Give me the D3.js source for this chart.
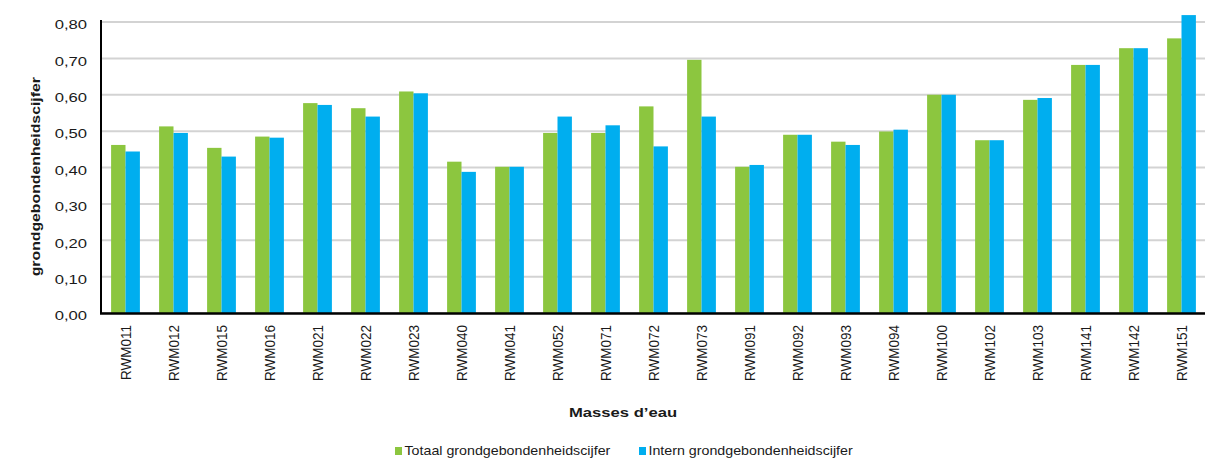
<!DOCTYPE html>
<html>
<head>
<meta charset="utf-8">
<script src="https://cdn.jsdelivr.net/npm/d3@7"></script>
<style>
  html, body { margin: 0; padding: 0; background: #fff; }
  svg { display: block; }
  text { font-family: "Liberation Sans", Arial, Helvetica, sans-serif; fill: #1a1a1a; }
</style>
</head>
<body>
<svg id="chart" width="1205" height="459"></svg>
<script>
// Water bodies (masses d'eau)
const categories = ["RWM011","RWM012","RWM015","RWM016","RWM021","RWM022","RWM023","RWM040","RWM041","RWM052","RWM071","RWM072","RWM073","RWM091","RWM092","RWM093","RWM094","RWM100","RWM102","RWM103","RWM141","RWM142","RWM151"];

// Totaal grondgebondenheidscijfer
const totaal = [0.462,0.513,0.454,0.485,0.577,0.563,0.609,0.416,0.402,0.495,0.495,0.568,0.696,0.402,0.490,0.471,0.499,0.600,0.475,0.586,0.682,0.728,0.755];

// Intern grondgebondenheidscijfer
const intern = [0.444,0.495,0.430,0.482,0.572,0.540,0.604,0.388,0.402,0.540,0.516,0.458,0.540,0.407,0.490,0.462,0.504,0.600,0.475,0.591,0.682,0.728,0.819];

const seriesNames = ["Totaal grondgebondenheidscijfer", "Intern grondgebondenheidscijfer"];
const yTicks = [0, 0.1, 0.2, 0.3, 0.4, 0.5, 0.6, 0.7, 0.8];

const colors = ["#8cc63f", "#00aeef"];
const fmt = v => v.toFixed(2).replace(".", ",");

const svg = d3.select("#chart");
const plotLeft = 101, plotRight = 1205, plotTop = 22, plotBottom = 313;

const x = d3.scaleBand().domain(categories).range([plotLeft + 0.5, plotRight + 0.5])
  .paddingInner(0.4).paddingOuter(0.2);
const xs = d3.scaleBand().domain([0, 1]).range([0, x.bandwidth()]);
const y = d3.scaleLinear().domain([0, 0.8]).range([plotBottom, plotTop]);

// Horizontal gridlines
svg.append("g").selectAll("line").data(yTicks).join("line")
  .attr("x1", plotLeft).attr("x2", plotRight)
  .attr("y1", d => y(d)).attr("y2", d => y(d))
  .attr("stroke", "#d3d3d3").attr("stroke-width", 2);

// Bars
const groups = svg.append("g").selectAll("g").data(categories).join("g")
  .attr("transform", d => `translate(${x(d)},0)`);
groups.selectAll("rect")
  .data((d, i) => [totaal[i], intern[i]])
  .join("rect")
  .attr("x", (d, j) => xs(j))
  .attr("width", xs.bandwidth())
  .attr("y", d => y(d))
  .attr("height", d => y(0) - y(d))
  .attr("fill", (d, j) => colors[j]);

// Axis lines
svg.append("line").attr("x1", plotLeft).attr("x2", plotLeft).attr("y1", plotTop - 2).attr("y2", plotBottom + 1)
  .attr("stroke", "#000").attr("stroke-width", 2);
svg.append("line").attr("x1", plotLeft - 1).attr("x2", plotRight).attr("y1", plotBottom + 0.5).attr("y2", plotBottom + 0.5)
  .attr("stroke", "#000").attr("stroke-width", 2.5);

// Y tick labels
svg.append("g").selectAll("text").data(yTicks).join("text")
  .attr("transform", d => `translate(87,${y(d) + 7.3}) scale(1.28,1)`)
  .attr("text-anchor", "end")
  .style("font-size", "13px")
  .text(fmt);

// X tick labels (rotated)
svg.append("g").selectAll("text").data(categories).join("text")
  .attr("transform", d => `translate(${x(d) + x.bandwidth() / 2 + 5.5},325) rotate(-90) scale(1,1.1)`)
  .attr("text-anchor", "end")
  .style("font-size", "13.5px")
  .text(d => d);

// Axis titles
svg.append("text")
  .attr("transform", "translate(40,176.7) rotate(-90) scale(1,0.85)")
  .attr("text-anchor", "middle")
  .style("font-size", "15.8px").style("font-weight", "bold")
  .text("grondgebondenheidscijfer");

svg.append("text")
  .attr("transform", "translate(623,417) scale(1.28,1)")
  .attr("text-anchor", "middle")
  .style("font-size", "13px").style("font-weight", "bold")
  .text("Masses d\u2019eau");

// Legend
const legendX = [395, 639];
const legend = svg.append("g").selectAll("g").data(seriesNames).join("g")
  .attr("transform", (d, i) => `translate(${legendX[i]},0)`);
legend.append("rect").attr("x", 0).attr("y", 447).attr("width", 7).attr("height", 8)
  .attr("fill", (d, i) => colors[i]);
legend.append("text")
  .attr("transform", "translate(9.5,455) scale(1.14,1)")
  .style("font-size", "12.5px")
  .text(d => d);
</script>
</body>
</html>
